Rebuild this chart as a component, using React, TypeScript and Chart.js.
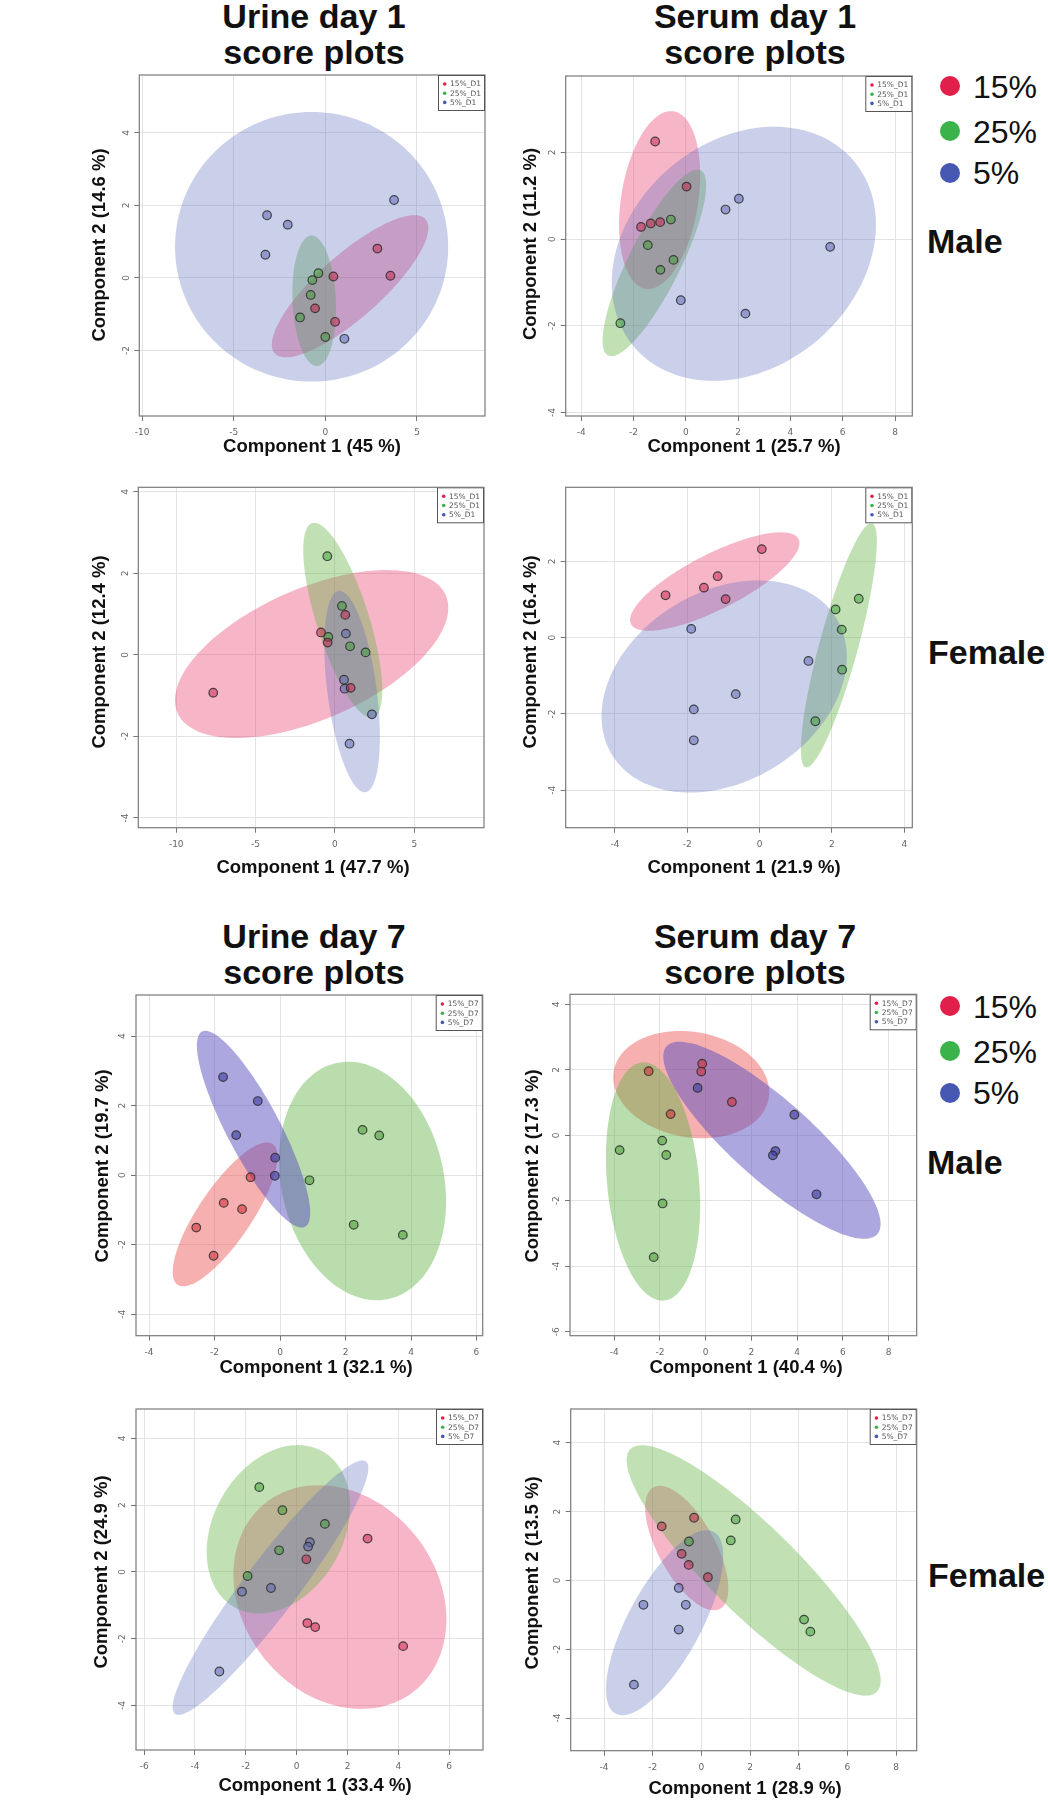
import React, { useEffect, useRef } from "react";
import { Chart, registerables } from "chart.js";

Chart.register(...registerables);

type Pt = [number, number];
type Ell = [number, number, number, number, number]; // cx, cy, sx, sy, rho

// ---------- Urine day 1, male ----------
const U1M_P15: Pt[] = [[2.84, 0.81], [3.55, 0.06], [0.44, 0.04], [-0.56, -0.84], [0.53, -1.21]];
const U1M_P25: Pt[] = [[-0.38, 0.13], [-0.71, -0.06], [-0.8, -0.47], [-1.38, -1.09], [0.0, -1.63]];
const U1M_P5: Pt[] = [[3.75, 2.15], [-3.18, 1.73], [-2.05, 1.47], [-3.27, 0.64], [1.04, -1.68]];
const U1M_ELL: Ell[] = [[1.35, -0.23, 4.27, 1.96, 0.82], [-0.61, -0.63, 1.19, 1.8, -0.12], [-0.75, 0.86, 7.45, 3.72, 0.0]];
const U1M_XR = [-10.15, 8.71];
const U1M_YR = [-3.81, 5.6];
const U1M_XT = [-10, -5, 0, 5];
const U1M_YT = [-2, 0, 2, 4];

// ---------- Serum day 1, male ----------
const S1M_P15: Pt[] = [[-1.17, 2.25], [0.03, 1.21], [-1.71, 0.28], [-1.34, 0.36], [-0.98, 0.39]];
const S1M_P25: Pt[] = [[-0.57, 0.45], [-1.45, -0.14], [-0.47, -0.48], [-0.97, -0.71], [-2.5, -1.94]];
const S1M_P5: Pt[] = [[1.52, 0.68], [2.03, 0.93], [5.52, -0.18], [-0.19, -1.41], [2.28, -1.72]];
const S1M_ELL: Ell[] = [[-1.0, 0.9, 1.55, 2.05, 0.28], [-1.2, -0.55, 1.98, 2.15, 0.83], [2.22, -0.34, 5.05, 2.93, 0.23]];
const S1M_XR = [-4.59, 8.66];
const S1M_YR = [-4.08, 3.76];
const S1M_XT = [-4, -2, 0, 2, 4, 6, 8];
const S1M_YT = [-4, -2, 0, 2];

// ---------- Urine day 1, female ----------
const U1F_P15: Pt[] = [[-7.67, -0.93], [-0.88, 0.55], [-0.46, 0.3], [0.65, 0.98], [0.99, -0.81]];
const U1F_P25: Pt[] = [[-0.48, 2.42], [0.44, 1.2], [-0.42, 0.44], [0.95, 0.21], [1.93, 0.06]];
const U1F_P5: Pt[] = [[0.69, 0.52], [0.57, -0.61], [0.61, -0.83], [2.33, -1.46], [0.92, -2.18]];
const U1F_ELL: Ell[] = [[-1.47, 0.02, 8.61, 2.06, 0.55], [0.49, 0.85, 2.49, 2.39, -0.72], [1.08, -0.9, 1.75, 2.47, -0.45]];
const U1F_XR = [-12.39, 9.39];
const U1F_YR = [-4.24, 4.11];
const U1F_XT = [-10, -5, 0, 5];
const U1F_YT = [-4, -2, 0, 2, 4];

// ---------- Serum day 1, female ----------
const S1F_P15: Pt[] = [[0.06, 2.32], [-1.16, 1.61], [-1.54, 1.31], [-2.6, 1.11], [-0.94, 1.01]];
const S1F_P25: Pt[] = [[2.74, 1.02], [2.1, 0.74], [2.27, 0.21], [2.28, -0.84], [1.54, -2.19]];
const S1F_P5: Pt[] = [[-1.89, 0.23], [1.35, -0.61], [-0.66, -1.48], [-1.82, -1.88], [-1.82, -2.69]];
const S1F_ELL: Ell[] = [[-1.24, 1.47, 2.34, 1.29, 0.78], [2.19, -0.2, 1.05, 3.2, 0.85], [-0.98, -1.28, 3.39, 2.78, 0.28]];
const S1F_XR = [-5.36, 4.22];
const S1F_YR = [-4.98, 3.94];
const S1F_XT = [-4, -2, 0, 2, 4];
const S1F_YT = [-4, -2, 0, 2];

// ---------- Urine day 7, male ----------
const U7M_P15: Pt[] = [[-0.9, -0.06], [-1.72, -0.8], [-1.16, -0.98], [-2.56, -1.51], [-2.03, -2.32]];
const U7M_P25: Pt[] = [[0.9, -0.15], [2.52, 1.3], [3.03, 1.14], [2.25, -1.43], [3.75, -1.72]];
const U7M_P5: Pt[] = [[-1.74, 2.82], [-0.68, 2.13], [-1.34, 1.15], [-0.15, 0.5], [-0.16, -0.02]];
const U7M_ELL: Ell[] = [[-1.68, -1.13, 1.6, 2.07, 0.8], [2.52, -0.17, 2.55, 3.43, -0.17], [-0.81, 1.32, 1.73, 2.83, -0.85]];
const U7M_XR = [-4.4, 6.19];
const U7M_YR = [-4.62, 5.18];
const U7M_XT = [-4, -2, 0, 2, 4, 6];
const U7M_YT = [-4, -2, 0, 2, 4];

// ---------- Serum day 7, male ----------
const S7M_P15: Pt[] = [[-0.15, 2.19], [-0.19, 1.95], [1.15, 1.02], [-1.53, 0.65], [-2.49, 1.96]];
const S7M_P25: Pt[] = [[-3.76, -0.45], [-1.9, -0.16], [-1.72, -0.6], [-1.88, -2.08], [-2.27, -3.72]];
const S7M_P5: Pt[] = [[-0.35, 1.45], [3.88, 0.63], [3.05, -0.48], [2.94, -0.61], [4.85, -1.8]];
const S7M_ELL: Ell[] = [[-0.63, 1.55, 3.41, 1.64, -0.14], [-2.3, -1.41, 2.06, 3.64, -0.2], [2.9, -0.15, 4.75, 3.01, -0.85]];
const S7M_XR = [-5.93, 9.23];
const S7M_YR = [-6.12, 4.31];
const S7M_XT = [-4, -2, 0, 2, 4, 6, 8];
const S7M_YT = [-6, -4, -2, 0, 2, 4];

// ---------- Urine day 7, female ----------
const U7F_P15: Pt[] = [[2.79, 1.0], [0.38, 0.38], [0.42, -1.53], [0.73, -1.65], [4.19, -2.22]];
const U7F_P25: Pt[] = [[-1.47, 2.54], [-0.56, 1.85], [1.11, 1.44], [-0.69, 0.65], [-1.93, -0.12]];
const U7F_P5: Pt[] = [[0.52, 0.89], [0.45, 0.76], [-1.01, -0.48], [-2.15, -0.59], [-3.04, -2.98]];
const U7F_ELL: Ell[] = [[1.7, -0.75, 4.19, 3.35, -0.2], [-0.72, 1.28, 2.82, 2.52, 0.27], [-1.03, -0.47, 3.85, 3.81, 0.94]];
const U7F_XR = [-6.32, 7.33];
const U7F_YR = [-5.33, 4.88];
const U7F_XT = [-6, -4, -2, 0, 2, 4, 6];
const U7F_YT = [-4, -2, 0, 2, 4];

// ---------- Serum day 7, female ----------
const S7F_P15: Pt[] = [[-0.3, 1.82], [-1.63, 1.57], [-0.81, 0.77], [-0.52, 0.45], [0.27, 0.09]];
const S7F_P25: Pt[] = [[1.41, 1.77], [1.21, 1.16], [-0.51, 1.13], [4.22, -1.14], [4.48, -1.49]];
const S7F_P5: Pt[] = [[-0.93, -0.22], [-2.38, -0.71], [-0.64, -0.71], [-0.93, -1.43], [-2.77, -3.03]];
const S7F_ELL: Ell[] = [[-0.6, 0.94, 1.71, 1.81, -0.65], [2.15, 0.29, 5.22, 3.64, -0.88], [-1.51, -1.23, 2.41, 2.69, 0.72]];
const S7F_XR = [-5.37, 8.85];
const S7F_YR = [-4.95, 4.98];
const S7F_XT = [-4, -2, 0, 2, 4, 6, 8];
const S7F_YT = [-4, -2, 0, 2, 4];

const LEG_D1 = ["15%_D1", "25%_D1", "5%_D1"];
const LEG_D7 = ["15%_D7", "25%_D7", "5%_D7"];
const GROUPS = ["15%", "25%", "5%"];

// ---------- styles ----------
const PAL_A = {
  ell: ["rgba(235,60,110,0.38)", "rgba(100,180,70,0.40)", "rgba(90,105,190,0.32)"],
  pt: ["rgba(200,30,70,0.5)", "rgba(60,160,50,0.5)", "rgba(90,100,180,0.5)"],
};
const PAL_B = {
  ell: ["rgba(235,80,80,0.45)", "rgba(100,180,70,0.45)", "rgba(90,80,190,0.5)"],
  pt: ["rgba(210,40,50,0.55)", "rgba(60,150,40,0.5)", "rgba(60,60,160,0.6)"],
};
const DOT = ["#e0204a", "#3cb24a", "#4658b2"];
const FONT = '"Liberation Sans", Arial, Helvetica, sans-serif';

type PanelDef = {
  pts: Pt[][];
  ell: Ell[];
  xr: number[];
  yr: number[];
  xt: number[];
  yt: number[];
  leg: string[];
  xTitle: string;
  yTitle: string;
  pal: typeof PAL_A;
  box: number[]; // left, top, right, bottom (page px)
  xtPos: number[];
  ytPos: number[];
};

const PANELS: PanelDef[] = [
  { pts: [U1M_P15, U1M_P25, U1M_P5], ell: U1M_ELL, xr: U1M_XR, yr: U1M_YR, xt: U1M_XT, yt: U1M_YT, leg: LEG_D1,
    xTitle: "Component 1 (45 %)", yTitle: "Component 2 (14.6 %)", pal: PAL_A,
    box: [139.3, 75, 485, 416], xtPos: [312, 452], ytPos: [100, 245] },
  { pts: [S1M_P15, S1M_P25, S1M_P5], ell: S1M_ELL, xr: S1M_XR, yr: S1M_YR, xt: S1M_XT, yt: S1M_YT, leg: LEG_D1,
    xTitle: "Component 1 (25.7 %)", yTitle: "Component 2 (11.2 %)", pal: PAL_A,
    box: [565.7, 76, 912.3, 416], xtPos: [744, 452], ytPos: [530.5, 244] },
  { pts: [U1F_P15, U1F_P25, U1F_P5], ell: U1F_ELL, xr: U1F_XR, yr: U1F_YR, xt: U1F_XT, yt: U1F_YT, leg: LEG_D1,
    xTitle: "Component 1 (47.7 %)", yTitle: "Component 2 (12.4 %)", pal: PAL_A,
    box: [138.3, 487.3, 484, 827.7], xtPos: [313, 873], ytPos: [100, 652] },
  { pts: [S1F_P15, S1F_P25, S1F_P5], ell: S1F_ELL, xr: S1F_XR, yr: S1F_YR, xt: S1F_XT, yt: S1F_YT, leg: LEG_D1,
    xTitle: "Component 1 (21.9 %)", yTitle: "Component 2 (16.4 %)", pal: PAL_A,
    box: [565.7, 487.3, 912.3, 827.7], xtPos: [744, 873], ytPos: [531, 652] },
  { pts: [U7M_P15, U7M_P25, U7M_P5], ell: U7M_ELL, xr: U7M_XR, yr: U7M_YR, xt: U7M_XT, yt: U7M_YT, leg: LEG_D7,
    xTitle: "Component 1 (32.1 %)", yTitle: "Component 2 (19.7 %)", pal: PAL_B,
    box: [136, 995, 482.7, 1335.7], xtPos: [316, 1373], ytPos: [103, 1166] },
  { pts: [S7M_P15, S7M_P25, S7M_P5], ell: S7M_ELL, xr: S7M_XR, yr: S7M_YR, xt: S7M_XT, yt: S7M_YT, leg: LEG_D7,
    xTitle: "Component 1 (40.4 %)", yTitle: "Component 2 (17.3 %)", pal: PAL_B,
    box: [570, 994.3, 916.7, 1335.7], xtPos: [746, 1373], ytPos: [533, 1166] },
  { pts: [U7F_P15, U7F_P25, U7F_P5], ell: U7F_ELL, xr: U7F_XR, yr: U7F_YR, xt: U7F_XT, yt: U7F_YT, leg: LEG_D7,
    xTitle: "Component 1 (33.4 %)", yTitle: "Component 2 (24.9 %)", pal: PAL_A,
    box: [136, 1409, 483, 1750], xtPos: [315, 1791], ytPos: [102, 1572] },
  { pts: [S7F_P15, S7F_P25, S7F_P5], ell: S7F_ELL, xr: S7F_XR, yr: S7F_YR, xt: S7F_XT, yt: S7F_YT, leg: LEG_D7,
    xTitle: "Component 1 (28.9 %)", yTitle: "Component 2 (13.5 %)", pal: PAL_A,
    box: [570.7, 1409, 916.7, 1750.7], xtPos: [745, 1794], ytPos: [533, 1573] },
];

function makePlugin(p: PanelDef, cl: number, ct: number) {
  return {
    id: "scoreplot",
    beforeDatasetsDraw(chart: any) {
      const ctx = chart.ctx;
      const xs = chart.scales.x;
      const ys = chart.scales.y;
      const ca = chart.chartArea;
      ctx.save();
      ctx.beginPath();
      ctx.rect(ca.left, ca.top, ca.right - ca.left, ca.bottom - ca.top);
      ctx.clip();
      p.ell.forEach((e, i) => {
        const [cx, cy, sx, sy, rho] = e;
        const k = Math.sqrt(1 - rho * rho);
        ctx.beginPath();
        const n = 160;
        for (let j = 0; j <= n; j++) {
          const t = (j / n) * Math.PI * 2;
          const dx = sx * Math.cos(t);
          const dy = sy * (rho * Math.cos(t) + k * Math.sin(t));
          const px = xs.getPixelForValue(cx + dx);
          const py = ys.getPixelForValue(cy + dy);
          if (j === 0) ctx.moveTo(px, py);
          else ctx.lineTo(px, py);
        }
        ctx.closePath();
        ctx.fillStyle = p.pal.ell[i];
        ctx.fill();
      });
      ctx.restore();
    },
    afterDraw(chart: any) {
      const ctx = chart.ctx;
      const xs = chart.scales.x;
      const ys = chart.scales.y;
      const { left, top, right, bottom } = chart.chartArea;
      ctx.save();
      // frame
      ctx.strokeStyle = "#7a7a7a";
      ctx.lineWidth = 1.2;
      ctx.strokeRect(left, top, right - left, bottom - top);
      // tick labels
      ctx.fillStyle = "#666";
      ctx.font = '9px "DejaVu Sans", sans-serif';
      ctx.textAlign = "center";
      ctx.textBaseline = "middle";
      p.xt.forEach((v) => ctx.fillText(String(v), xs.getPixelForValue(v), bottom + 17));
      p.yt.forEach((v) => {
        ctx.save();
        ctx.translate(left - 13, ys.getPixelForValue(v));
        ctx.rotate(-Math.PI / 2);
        ctx.fillText(String(v), 0, 0);
        ctx.restore();
      });
      // axis titles
      ctx.fillStyle = "#111";
      ctx.font = `bold 18.5px ${FONT}`;
      ctx.textAlign = "center";
      ctx.textBaseline = "alphabetic";
      ctx.fillText(p.xTitle, p.xtPos[0] - cl, p.xtPos[1] - ct);
      ctx.save();
      ctx.translate(p.ytPos[0] - cl, p.ytPos[1] - ct);
      ctx.rotate(-Math.PI / 2);
      ctx.textBaseline = "middle";
      ctx.fillText(p.yTitle, 0, 0);
      ctx.restore();
      // inner legend
      const lw = 47;
      const lh = 36;
      const lx = right - lw;
      const ly = top;
      ctx.fillStyle = "#fff";
      ctx.fillRect(lx, ly, lw, lh);
      ctx.strokeStyle = "#555";
      ctx.lineWidth = 1;
      ctx.strokeRect(lx + 0.5, ly + 0.5, lw - 1, lh - 1);
      ctx.font = '7.5px "DejaVu Sans", sans-serif';
      ctx.textAlign = "left";
      ctx.textBaseline = "middle";
      p.leg.forEach((t, i) => {
        const yy = ly + 9 + i * 9.2;
        ctx.beginPath();
        ctx.arc(lx + 6.7, yy, 1.8, 0, Math.PI * 2);
        ctx.fillStyle = DOT[i];
        ctx.fill();
        ctx.fillStyle = "#555";
        ctx.fillText(t, lx + 12, yy + 0.5);
      });
      ctx.restore();
    },
  };
}

function Panel({ p }: { p: PanelDef }) {
  const ref = useRef<HTMLCanvasElement | null>(null);
  const [L, T, R, B] = p.box;
  const cl = Math.floor(L - 82);
  const ct = Math.floor(T - 12);
  const cw = Math.ceil(R + 10) - cl;
  const ch = Math.ceil(B + 58) - ct;
  useEffect(() => {
    if (!ref.current) return;
    const chart = new Chart(ref.current, {
      type: "scatter",
      data: {
        datasets: p.pts.map((s, i) => ({
          label: p.leg[i],
          data: s.map(([x, y]) => ({ x, y })),
          backgroundColor: p.pal.pt[i],
          borderColor: "rgba(45,45,45,0.85)",
          borderWidth: 1.2,
          pointRadius: 4.3,
          pointHoverRadius: 4.3,
        })),
      },
      options: {
        responsive: false,
        animation: false,
        events: [],
        layout: { padding: { left: L - cl, top: T - ct, right: cl + cw - R, bottom: ct + ch - B } },
        plugins: { legend: { display: false }, tooltip: { enabled: false }, title: { display: false } },
        scales: {
          x: {
            type: "linear",
            min: p.xr[0],
            max: p.xr[1],
            afterBuildTicks: (s: any) => {
              s.ticks = p.xt.map((v) => ({ value: v }));
            },
            afterFit: (s: any) => {
              s.height = 0;
            },
            ticks: { display: false },
            grid: { color: "#e3e3e3", tickColor: "#777", tickLength: 5, lineWidth: 1 },
            border: { display: false },
          },
          y: {
            type: "linear",
            min: p.yr[0],
            max: p.yr[1],
            afterBuildTicks: (s: any) => {
              s.ticks = p.yt.map((v) => ({ value: v }));
            },
            afterFit: (s: any) => {
              s.width = 0;
            },
            ticks: { display: false },
            grid: { color: "#e3e3e3", tickColor: "#777", tickLength: 5, lineWidth: 1 },
            border: { display: false },
          },
        },
      } as any,
      plugins: [makePlugin(p, cl, ct)],
    });
    return () => chart.destroy();
  }, []);
  return (
    <canvas
      ref={ref}
      width={cw}
      height={ch}
      style={{ position: "absolute", left: cl, top: ct, width: cw, height: ch }}
    />
  );
}

function Txt(props: { x: number; y: number; size: number; bold?: boolean; center?: boolean; children: React.ReactNode }) {
  const { x, y, size, bold, center, children } = props;
  const style: React.CSSProperties = {
    position: "absolute",
    top: y - 0.8465 * size,
    fontSize: size,
    lineHeight: `${size}px`,
    fontWeight: bold ? 700 : 400,
    fontFamily: FONT,
    whiteSpace: "nowrap",
    color: "#111",
  };
  if (center) {
    style.left = x - 300;
    style.width = 600;
    style.textAlign = "center";
  } else {
    style.left = x;
  }
  return <div style={style}>{children}</div>;
}

function SideLegend({ dy }: { dy: number }) {
  const ys = [86, 131, 172.5];
  return (
    <>
      {GROUPS.map((g, i) => (
        <React.Fragment key={g}>
          <div
            style={{
              position: "absolute",
              left: 940,
              top: ys[i] + dy - 10,
              width: 20,
              height: 20,
              borderRadius: 10,
              background: DOT[i],
            }}
          />
          <Txt x={973} y={ys[i] + dy + 12} size={32}>{g}</Txt>
        </React.Fragment>
      ))}
    </>
  );
}

export default function App() {
  return (
    <div style={{ position: "absolute", left: 0, top: 0, width: 1048, height: 1800, background: "#fff", overflow: "hidden" }}>
      <Txt x={314} y={28} size={34} bold center>Urine day 1</Txt>
      <Txt x={314} y={64} size={34} bold center>score plots</Txt>
      <Txt x={755} y={28} size={34} bold center>Serum day 1</Txt>
      <Txt x={755} y={64} size={34} bold center>score plots</Txt>
      <Txt x={314} y={948} size={34} bold center>Urine day 7</Txt>
      <Txt x={314} y={984} size={34} bold center>score plots</Txt>
      <Txt x={755} y={948} size={34} bold center>Serum day 7</Txt>
      <Txt x={755} y={984} size={34} bold center>score plots</Txt>
      <SideLegend dy={0} />
      <SideLegend dy={920} />
      <Txt x={927} y={253} size={34} bold>Male</Txt>
      <Txt x={928} y={664} size={34} bold>Female</Txt>
      <Txt x={927} y={1174} size={34} bold>Male</Txt>
      <Txt x={928} y={1587} size={34} bold>Female</Txt>
      {PANELS.map((p, i) => (
        <Panel key={i} p={p} />
      ))}
    </div>
  );
}
